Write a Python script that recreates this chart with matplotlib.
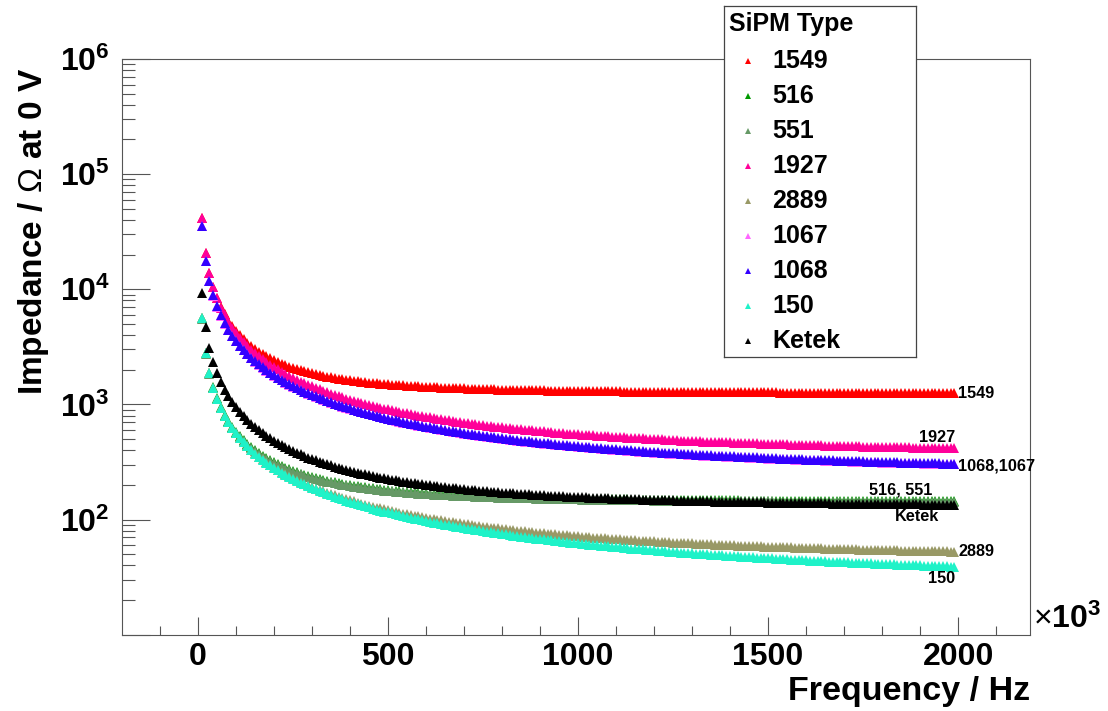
import matplotlib
matplotlib.use("Agg")
import matplotlib.pyplot as plt
import numpy as np
from matplotlib.ticker import FixedLocator, MultipleLocator, FuncFormatter, NullFormatter

plt.rcParams['font.family'] = ['Liberation Sans', 'DejaVu Sans']
plt.rcParams['mathtext.fontset'] = 'custom'
plt.rcParams['mathtext.rm'] = 'Liberation Sans'
plt.rcParams['mathtext.bf'] = 'Liberation Sans:bold'
plt.rcParams['mathtext.it'] = 'Liberation Sans:italic'

# Measurement frequencies in kHz (axis shown as x10^3 Hz)
freq_khz = list(range(10, 2000, 10))

# Impedance magnitude (Ohm) at 0 V bias for each SiPM type
z_1549 = [41574, 20815, 13907, 10463, 8403, 7036, 6064, 5340, 4781, 4337,
          3976, 3678, 3429, 3217, 3035, 2878, 2741, 2621, 2514, 2420,
          2335, 2260, 2192, 2129, 2074, 2023, 1976, 1934, 1895, 1859,
          1826, 1796, 1767, 1741, 1717, 1694, 1673, 1654, 1635, 1618,
          1602, 1586, 1572, 1558, 1546, 1534, 1523, 1513, 1502, 1493,
          1484, 1475, 1467, 1460, 1452, 1445, 1438, 1432, 1426, 1421,
          1415, 1409, 1405, 1400, 1395, 1391, 1386, 1382, 1378, 1375,
          1371, 1368, 1364, 1361, 1358, 1355, 1353, 1350, 1347, 1344,
          1342, 1340, 1337, 1335, 1333, 1331, 1329, 1327, 1325, 1323,
          1321, 1320, 1318, 1316, 1315, 1313, 1312, 1310, 1309, 1308,
          1306, 1305, 1304, 1303, 1302, 1300, 1299, 1298, 1297, 1296,
          1295, 1294, 1293, 1293, 1291, 1291, 1290, 1289, 1288, 1287,
          1287, 1286, 1285, 1284, 1284, 1283, 1282, 1282, 1281, 1281,
          1280, 1279, 1279, 1278, 1278, 1277, 1276, 1276, 1275, 1275,
          1275, 1274, 1274, 1273, 1273, 1272, 1272, 1271, 1271, 1271,
          1270, 1270, 1269, 1269, 1269, 1268, 1268, 1268, 1267, 1267,
          1267, 1266, 1266, 1266, 1265, 1265, 1265, 1264, 1264, 1264,
          1264, 1263, 1263, 1263, 1262, 1262, 1262, 1262, 1262, 1261,
          1261, 1261, 1261, 1260, 1260, 1260, 1260, 1260, 1259, 1259,
          1259, 1259, 1258, 1258, 1258, 1258, 1258, 1258, 1257]

z_516 = [5602, 2804, 1872, 1407, 1128.8, 943.9, 812.3, 714.1, 638.0, 577.5,
         528.3, 487.5, 453.3, 424.1, 399.0, 377.3, 358.3, 341.6, 326.7, 313.5,
         301.7, 291.0, 281.4, 272.6, 264.7, 257.4, 250.8, 244.7, 239.1, 234.0,
         229.1, 224.7, 220.6, 216.8, 213.3, 210.0, 206.9, 204.0, 201.3, 198.7,
         196.3, 194.0, 191.9, 190.0, 188.0, 186.3, 184.6, 183.0, 181.5, 180.1,
         178.7, 177.4, 176.2, 175.0, 173.9, 172.9, 171.8, 170.9, 170.0, 169.1,
         168.2, 167.4, 166.7, 165.9, 165.3, 164.5, 163.9, 163.3, 162.7, 162.1,
         161.6, 161.0, 160.5, 160.0, 159.6, 159.1, 158.6, 158.2, 157.8, 157.4,
         157.0, 156.7, 156.3, 156.0, 155.6, 155.3, 155.0, 154.7, 154.4, 154.1,
         153.8, 153.6, 153.3, 153.1, 152.8, 152.6, 152.3, 152.1, 151.9, 151.7,
         151.5, 151.3, 151.1, 150.9, 150.7, 150.6, 150.4, 150.2, 150.1, 149.9,
         149.8, 149.6, 149.5, 149.3, 149.2, 149.0, 148.9, 148.8, 148.7, 148.5,
         148.4, 148.3, 148.2, 148.1, 147.9, 147.8, 147.7, 147.6, 147.5, 147.4,
         147.3, 147.2, 147.1, 147.1, 147.0, 146.9, 146.8, 146.7, 146.6, 146.6,
         146.5, 146.4, 146.3, 146.3, 146.2, 146.1, 146.1, 146.0, 145.9, 145.8,
         145.8, 145.7, 145.7, 145.6, 145.5, 145.5, 145.4, 145.4, 145.3, 145.3,
         145.2, 145.2, 145.1, 145.1, 145.0, 145.0, 144.9, 144.9, 144.8, 144.8,
         144.7, 144.7, 144.7, 144.6, 144.6, 144.5, 144.5, 144.5, 144.4, 144.4,
         144.3, 144.3, 144.3, 144.2, 144.2, 144.2, 144.1, 144.1, 144.1, 144.1,
         144.0, 144.0, 144.0, 143.9, 143.9, 143.9, 143.8, 143.8, 143.8]

z_551 = [5518, 2762, 1844, 1386, 1111.9, 929.7, 800.1, 703.4, 628.4, 568.8,
         520.4, 480.2, 446.5, 417.7, 393.0, 371.6, 352.9, 336.5, 321.8, 308.8,
         297.2, 286.6, 277.2, 268.5, 260.7, 253.5, 247.0, 241.0, 235.5, 230.5,
         225.7, 221.3, 217.3, 213.5, 210.1, 206.9, 203.8, 200.9, 198.3, 195.7,
         193.4, 191.1, 189.0, 187.2, 185.2, 183.5, 181.8, 180.3, 178.8, 177.4,
         176.0, 174.7, 173.6, 172.4, 171.3, 170.3, 169.2, 168.3, 167.5, 166.6,
         165.7, 164.9, 164.2, 163.4, 162.8, 162.0, 161.4, 160.8, 160.3, 159.7,
         159.2, 158.6, 158.1, 157.6, 157.2, 156.7, 156.2, 155.8, 155.4, 155.0,
         154.6, 154.3, 154.0, 153.7, 153.3, 153.0, 152.7, 152.4, 152.1, 151.8,
         151.5, 151.3, 151.0, 150.8, 150.5, 150.3, 150.0, 149.8, 149.6, 149.4,
         149.2, 149.0, 148.8, 148.6, 148.4, 148.3, 148.1, 147.9, 147.8, 147.7,
         147.6, 147.4, 147.3, 147.1, 147.0, 146.8, 146.7, 146.6, 146.5, 146.3,
         146.2, 146.1, 146.0, 145.9, 145.7, 145.6, 145.5, 145.4, 145.3, 145.2,
         145.1, 145.0, 144.9, 144.9, 144.8, 144.7, 144.6, 144.5, 144.4, 144.4,
         144.3, 144.2, 144.1, 144.1, 144.0, 143.9, 143.9, 143.8, 143.7, 143.6,
         143.6, 143.5, 143.5, 143.4, 143.3, 143.3, 143.2, 143.2, 143.1, 143.1,
         143.0, 143.0, 142.9, 142.9, 142.8, 142.8, 142.7, 142.7, 142.6, 142.6,
         142.5, 142.5, 142.5, 142.4, 142.4, 142.3, 142.3, 142.3, 142.2, 142.2,
         142.1, 142.1, 142.1, 142.0, 142.0, 142.0, 141.9, 141.9, 141.9, 141.9,
         141.8, 141.8, 141.8, 141.7, 141.7, 141.7, 141.6, 141.6, 141.6]

z_1927 = [41557, 20781, 13857, 10395, 8319, 6935, 5947, 5206, 4631, 4172,
          3795, 3482, 3217, 2990, 2793, 2622, 2470, 2337, 2216, 2109,
          2012, 1923, 1843, 1768, 1701, 1638, 1581, 1527, 1478, 1431,
          1388, 1348, 1310, 1274, 1240, 1209, 1179, 1152, 1125, 1100,
          1076, 1053, 1031, 1010, 991, 972, 955, 938, 921, 906,
          891, 876, 863, 850, 837, 825, 813, 801, 791, 781,
          770, 761, 752, 742, 733, 726, 717, 709, 701, 695,
          687, 680, 673, 667, 661, 655, 649, 643, 637, 632,
          627, 622, 617, 612, 607, 602, 598, 594, 590, 586,
          582, 578, 574, 570, 566, 563, 559, 556, 553, 550,
          546, 543, 540, 538, 535, 532, 529, 527, 524, 522,
          519, 517, 515, 513, 510, 508, 506, 504, 501, 499,
          497, 496, 494, 492, 490, 488, 486, 485, 483, 482,
          480, 478, 476, 475, 474, 473, 471, 469, 468, 467,
          465, 464, 463, 462, 460, 459, 458, 457, 456, 454,
          453, 452, 451, 450, 449, 448, 447, 446, 445, 444,
          443, 442, 441, 440, 439, 438, 438, 437, 436, 435,
          434, 434, 433, 432, 431, 431, 430, 429, 428, 428,
          427, 426, 426, 425, 425, 424, 423, 422, 422, 421,
          421, 420, 419, 419, 418, 418, 417, 417, 416]

z_2889 = [5600, 2800, 1867, 1400.7, 1120.9, 934.4, 801.2, 701.4, 623.8, 561.8,
          511.0, 468.8, 433.1, 402.5, 375.9, 352.8, 332.4, 314.3, 298.0, 283.5,
          270.4, 258.4, 247.5, 237.5, 228.4, 219.9, 212.1, 204.9, 198.2, 191.9,
          186.0, 180.6, 175.4, 170.6, 166.1, 161.8, 157.8, 154.0, 150.3, 146.9,
          143.7, 140.5, 137.6, 134.9, 132.1, 129.6, 127.1, 124.9, 122.7, 120.5,
          118.5, 116.5, 114.7, 112.8, 111.1, 109.5, 107.8, 106.4, 104.8, 103.4,
          102.0, 100.7, 99.4, 98.2, 97.0, 95.8, 94.7, 93.6, 92.6, 91.5,
          90.6, 89.6, 88.7, 87.8, 86.9, 86.1, 85.2, 84.5, 83.7, 82.9,
          82.2, 81.5, 80.8, 80.2, 79.5, 78.9, 78.3, 77.6, 77.0, 76.5,
          75.9, 75.4, 74.9, 74.4, 73.8, 73.3, 72.9, 72.4, 72.0, 71.5,
          71.1, 70.7, 70.3, 69.8, 69.4, 69.1, 68.7, 68.4, 68.0, 67.6,
          67.3, 66.9, 66.6, 66.3, 66.0, 65.7, 65.4, 65.1, 64.8, 64.5,
          64.2, 63.9, 63.6, 63.4, 63.1, 62.9, 62.6, 62.4, 62.2, 62.0,
          61.7, 61.5, 61.3, 61.0, 60.8, 60.6, 60.4, 60.2, 60.0, 59.8,
          59.6, 59.4, 59.3, 59.1, 58.9, 58.8, 58.6, 58.4, 58.3, 58.1,
          57.9, 57.7, 57.6, 57.5, 57.3, 57.2, 57.0, 56.9, 56.7, 56.6,
          56.5, 56.4, 56.2, 56.1, 55.9, 55.8, 55.7, 55.6, 55.5, 55.3,
          55.2, 55.2, 55.0, 54.9, 54.8, 54.7, 54.6, 54.5, 54.4, 54.3,
          54.2, 54.1, 54.0, 53.9, 53.8, 53.7, 53.6, 53.6, 53.4, 53.4,
          53.3, 53.2, 53.1, 53.1, 53.0, 52.9, 52.8, 52.7, 52.6]

z_1067 = [35172, 17587, 11727, 8796, 7039, 5867, 5030, 4404, 3915, 3525,
          3207, 2941, 2717, 2525, 2357, 2212, 2083, 1969, 1867, 1775,
          1693, 1618, 1548, 1486, 1428, 1375, 1326, 1280, 1238, 1198,
          1160, 1126, 1094, 1063, 1035, 1007, 982, 957, 935, 913,
          892, 872, 853, 836, 819, 803, 787, 772, 758, 744,
          732, 720, 707, 696, 685, 674, 664, 653, 644, 636,
          627, 618, 610, 602, 594, 586, 579, 572, 565, 558,
          552, 546, 541, 535, 529, 524, 518, 513, 508, 503,
          498, 494, 489, 485, 481, 476, 472, 468, 464, 461,
          457, 453, 450, 447, 444, 441, 438, 435, 432, 429,
          426, 423, 420, 418, 415, 412, 410, 407, 405, 403,
          400, 398, 396, 394, 392, 390, 387, 385, 383, 382,
          380, 378, 376, 374, 373, 371, 369, 368, 366, 364,
          363, 361, 360, 358, 357, 356, 354, 353, 351, 350,
          349, 348, 347, 346, 345, 344, 343, 341, 340, 339,
          338, 337, 336, 335, 334, 333, 332, 331, 330, 329,
          328, 327, 326, 326, 325, 324, 323, 322, 321, 321,
          320, 319, 318, 318, 317, 316, 315, 315, 314, 313,
          313, 312, 311, 311, 310, 309, 309, 308, 307, 307,
          306, 306, 305, 305, 304, 303, 303, 302, 302]

z_1068 = [35527, 17765, 11845, 8885, 7110, 5926, 5081, 4448, 3955, 3561,
          3239, 2971, 2744, 2550, 2381, 2234, 2104, 1989, 1886, 1793,
          1710, 1634, 1564, 1501, 1442, 1389, 1339, 1293, 1250, 1210,
          1172, 1137, 1105, 1074, 1045, 1017, 992, 967, 944, 922,
          901, 881, 862, 844, 827, 811, 795, 780, 766, 752,
          739, 727, 714, 703, 692, 681, 671, 660, 651, 642,
          633, 624, 616, 608, 600, 592, 585, 578, 571, 564,
          558, 552, 546, 540, 534, 529, 523, 518, 513, 508,
          503, 499, 494, 490, 486, 481, 477, 473, 469, 466,
          462, 458, 455, 452, 448, 445, 442, 439, 436, 433,
          430, 427, 424, 422, 419, 416, 414, 411, 409, 407,
          404, 402, 400, 398, 396, 394, 391, 389, 387, 386,
          384, 382, 380, 378, 377, 375, 373, 372, 370, 368,
          367, 365, 364, 362, 361, 360, 358, 357, 355, 354,
          353, 352, 350, 349, 348, 347, 346, 344, 343, 342,
          341, 340, 339, 338, 337, 336, 335, 334, 333, 332,
          331, 330, 329, 329, 328, 327, 326, 325, 324, 324,
          323, 322, 321, 321, 320, 319, 318, 318, 317, 316,
          316, 315, 314, 314, 313, 312, 312, 311, 310, 310,
          309, 309, 308, 308, 307, 306, 306, 305, 305]

z_150 = [5600, 2800, 1866.9, 1400.3, 1120.3, 933.7, 800.5, 700.5, 622.8, 560.7,
         509.8, 467.5, 431.6, 400.9, 374.3, 351.0, 330.5, 312.3, 295.9, 281.3,
         268.1, 255.9, 245.0, 234.9, 225.6, 217.1, 209.2, 201.8, 195.0, 188.6,
         182.6, 177.1, 171.8, 166.9, 162.3, 157.9, 153.8, 149.9, 146.1, 142.6,
         139.2, 136.0, 133.0, 130.1, 127.3, 124.7, 122.1, 119.8, 117.4, 115.2,
         113.1, 111.0, 109.1, 107.2, 105.3, 103.6, 101.8, 100.3, 98.7, 97.1,
         95.7, 94.2, 92.9, 91.6, 90.3, 89.0, 87.9, 86.7, 85.6, 84.4,
         83.4, 82.4, 81.3, 80.4, 79.4, 78.5, 77.6, 76.7, 75.9, 75.0,
         74.2, 73.4, 72.7, 72.0, 71.2, 70.5, 69.8, 69.1, 68.4, 67.8,
         67.2, 66.6, 66.0, 65.4, 64.8, 64.2, 63.7, 63.2, 62.7, 62.2,
         61.6, 61.2, 60.7, 60.2, 59.7, 59.3, 58.9, 58.5, 58.1, 57.6,
         57.3, 56.8, 56.5, 56.0, 55.7, 55.3, 55.0, 54.6, 54.3, 53.9,
         53.6, 53.3, 52.9, 52.6, 52.3, 52.0, 51.7, 51.4, 51.1, 50.9,
         50.5, 50.3, 50.0, 49.8, 49.5, 49.3, 49.0, 48.8, 48.5, 48.3,
         48.0, 47.8, 47.6, 47.3, 47.1, 46.9, 46.7, 46.5, 46.3, 46.0,
         45.9, 45.6, 45.5, 45.3, 45.1, 44.9, 44.8, 44.5, 44.4, 44.2,
         44.0, 43.9, 43.7, 43.5, 43.3, 43.2, 43.0, 42.9, 42.7, 42.6,
         42.4, 42.3, 42.2, 42.0, 41.9, 41.7, 41.6, 41.5, 41.3, 41.2,
         41.0, 41.0, 40.8, 40.7, 40.6, 40.4, 40.3, 40.2, 40.1, 40.0,
         39.8, 39.8, 39.6, 39.5, 39.4, 39.3, 39.2, 39.1, 39.0]

z_ketek = [9330, 4666, 3112, 2336, 1870, 1560, 1339, 1173, 1044, 941.4,
           857.4, 787.5, 728.6, 678.2, 634.5, 596.6, 563.1, 533.4, 506.9, 483.2,
           461.7, 442.3, 424.7, 408.6, 393.9, 380.3, 367.8, 356.2, 345.5, 335.6,
           326.2, 317.6, 309.5, 301.9, 294.8, 288.1, 281.8, 275.9, 270.4, 265.1,
           260.1, 255.4, 250.9, 246.6, 242.6, 238.8, 235.1, 231.7, 228.3, 225.2,
           222.1, 219.2, 216.5, 213.9, 211.3, 208.9, 206.6, 204.3, 202.2, 200.1,
           198.1, 196.3, 194.4, 192.7, 191.0, 189.3, 187.8, 186.3, 184.8, 183.4,
           182.1, 180.8, 179.5, 178.3, 177.1, 175.9, 174.8, 173.7, 172.7, 171.7,
           170.7, 169.8, 168.8, 168.0, 167.1, 166.3, 165.4, 164.7, 163.9, 163.2,
           162.4, 161.7, 161.0, 160.4, 159.7, 159.1, 158.5, 157.9, 157.3, 156.8,
           156.2, 155.7, 155.2, 154.7, 154.1, 153.7, 153.2, 152.8, 152.3, 151.9,
           151.4, 151.0, 150.7, 150.2, 149.8, 149.5, 149.1, 148.8, 148.4, 148.0,
           147.7, 147.4, 147.0, 146.7, 146.4, 146.1, 145.9, 145.6, 145.3, 145.0,
           144.7, 144.5, 144.2, 143.9, 143.7, 143.5, 143.2, 143.0, 142.8, 142.5,
           142.3, 142.1, 141.9, 141.7, 141.5, 141.3, 141.1, 140.9, 140.7, 140.5,
           140.3, 140.2, 140.0, 139.8, 139.6, 139.5, 139.3, 139.1, 139.0, 138.8,
           138.7, 138.5, 138.4, 138.3, 138.1, 138.0, 137.8, 137.7, 137.6, 137.4,
           137.3, 137.2, 137.0, 136.9, 136.8, 136.7, 136.6, 136.5, 136.3, 136.2,
           136.1, 136.0, 135.9, 135.8, 135.7, 135.6, 135.5, 135.4, 135.3, 135.2,
           135.1, 135.0, 134.9, 134.9, 134.8, 134.7, 134.6, 134.5, 134.4]

sipm_names = ["1549", "516", "551", "1927", "2889", "1067", "1068", "150", "Ketek"]
sipm_values = [z_1549, z_516, z_551, z_1927, z_2889, z_1067, z_1068, z_150, z_ketek]
sipm_colors = ["#ff0000", "#009900", "#669966", "#ff0099", "#999966",
               "#ff66ff", "#3300ff", "#1ff2c8", "#000000"]

# Curve-end annotations: (text, x in kHz, impedance, horizontal alignment)
end_labels = [("1549", 2000, 1256, "left"),
              ("1927", 1993, 514, "right"),
              ("1068,1067", 2000, 292, "left"),
              ("516, 551", 1932, 181, "right"),
              ("Ketek", 1949, 106, "right"),
              ("2889", 2000, 52.6, "left"),
              ("150", 1993, 30.5, "right")]

W, H = 1108, 711
fig = plt.figure(figsize=(W / 100, H / 100), dpi=100)
fig.patch.set_facecolor("white")

ax_l, ax_r, ax_t, ax_b = 122.3, 1030.0, 59.0, 634.7
ax = fig.add_axes([ax_l / W, 1 - ax_b / H, (ax_r - ax_l) / W, (ax_b - ax_t) / H])

for k, (name, vals, col) in enumerate(zip(sipm_names, sipm_values, sipm_colors)):
    ax.plot(freq_khz, vals, linestyle="none", marker="^", markersize=6.6,
            markeredgewidth=0, color=col, zorder=3 + k)

ax.set_yscale("log")
ax.set_xlim(-199, 2189)
ax.set_ylim(10, 1e6)

frame_col = "#555555"
for sp in ax.spines.values():
    sp.set_color(frame_col)
    sp.set_linewidth(0.8)

ax.xaxis.set_major_locator(FixedLocator([0, 500, 1000, 1500, 2000]))
ax.xaxis.set_minor_locator(MultipleLocator(100))
ax.xaxis.set_major_formatter(FuncFormatter(lambda v, p: "%d" % v))

ax.yaxis.set_major_locator(FixedLocator([1e1, 1e2, 1e3, 1e4, 1e5, 1e6]))
minor_y = [m * 10.0 ** e for e in range(1, 6) for m in range(2, 10)]
ax.yaxis.set_minor_locator(FixedLocator(minor_y))
ax.yaxis.set_minor_formatter(NullFormatter())


def ylab(v, p):
    e = int(round(np.log10(v)))
    if e <= 1:
        return ""
    return r"$\mathbf{10^{%d}}$" % e


ax.yaxis.set_major_formatter(FuncFormatter(ylab))

ax.tick_params(axis="both", which="both", direction="in", color=frame_col,
               width=0.8, top=False, right=False)
ax.tick_params(axis="x", which="major", length=13, pad=5.5, labelsize=23)
ax.tick_params(axis="x", which="minor", length=6.5)
ax.tick_params(axis="y", which="major", length=20, pad=9, labelsize=23)
ax.tick_params(axis="y", which="minor", length=9.5)
for t in ax.get_xticklabels():
    t.set_fontweight("bold")

for text, xv, yv, ha in end_labels:
    ax.text(xv, yv, text, ha=ha, va="center", fontsize=11.7,
            fontweight="bold", zorder=20)

fig.text(1033 / W, 1 - 619 / H, r"$\times\mathbf{10^{3}}$", fontsize=23,
         ha="left", va="center")
fig.text(ax_r / W, 1 - 700 / H, "Frequency / Hz", fontsize=24.5,
         fontweight="bold", ha="right", va="baseline")
fig.text(34 / W, 1 - 68 / H, r"Impedance / $\Omega$ at 0 V", fontsize=24,
         fontweight="bold", rotation=90, ha="center", va="top")

# Legend panel
lg_l, lg_r, lg_t, lg_b = 724, 916, 6, 357
leg = fig.add_axes([lg_l / W, 1 - lg_b / H, (lg_r - lg_l) / W, (lg_b - lg_t) / H])
leg.set_zorder(30)
leg.set_facecolor("white")
leg.set_xlim(0, lg_r - lg_l)
leg.set_ylim(lg_b - lg_t, 0)
leg.set_xticks([])
leg.set_yticks([])
for sp in leg.spines.values():
    sp.set_color("#444444")
    sp.set_linewidth(0.9)

leg.text(5, 18, "SiPM Type", fontsize=18, fontweight="bold", ha="left", va="center")
row0, row_step = 55, 35
for k, (name, col) in enumerate(zip(sipm_names, sipm_colors)):
    yy = row0 + k * row_step
    leg.plot([24], [yy], linestyle="none", marker="^", markersize=4.5,
             markeredgewidth=0, color=col)
    leg.text(48, yy, name, fontsize=18, fontweight="bold", ha="left", va="center")

fig.savefig("out.png", dpi=100, facecolor="white")
